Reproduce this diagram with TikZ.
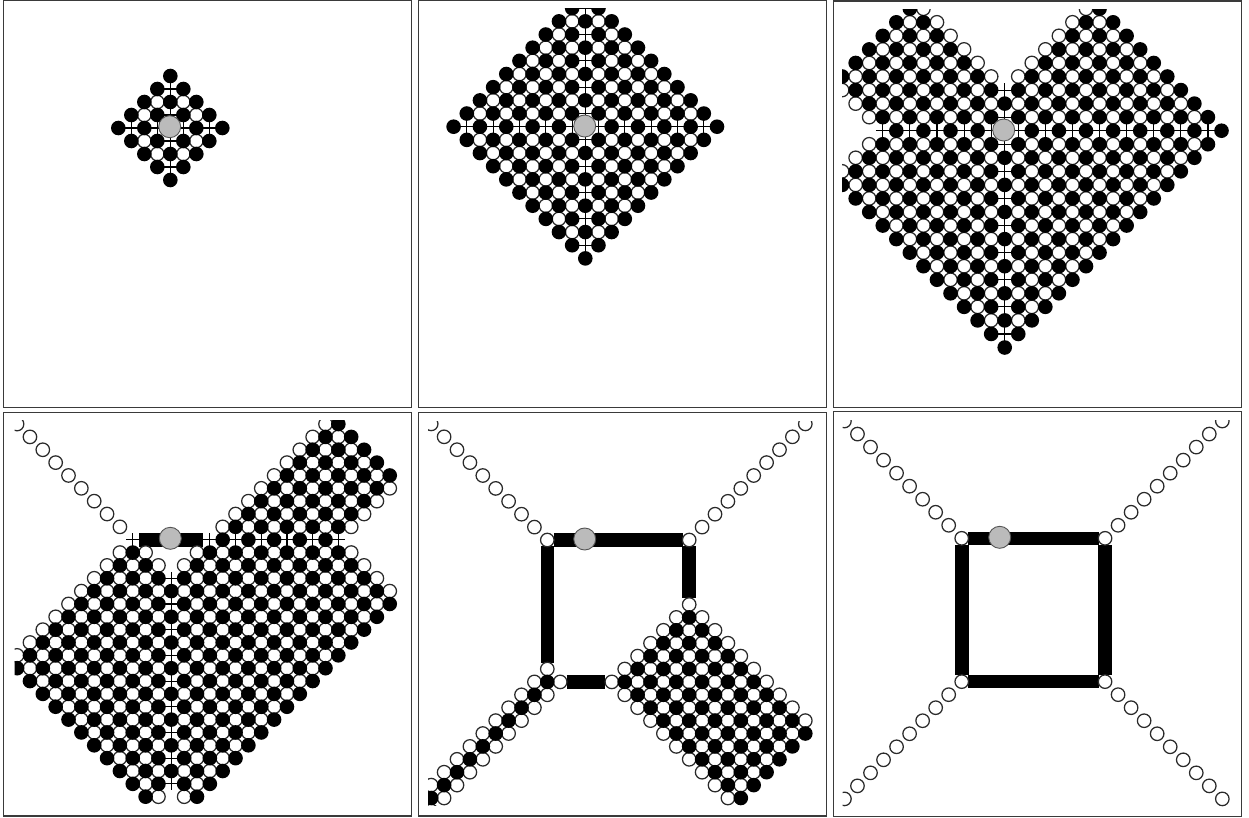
\documentclass[tikz,border=0pt]{standalone}
\definecolor{greyspot}{HTML}{BBBBBB}
\definecolor{greyedge}{HTML}{555555}
\definecolor{ringedge}{HTML}{2A2A2A}
\definecolor{frameedge}{HTML}{3A3A3A}
\tikzset{
  blackdot/.style={fill=black},
  whitedot/.style={fill=white,draw=ringedge,line width=1.25pt},
  crossline/.style={draw=black,line width=1.1pt},
  barline/.style={draw=black,line cap=butt},
  spot/.style={fill=greyspot,draw=greyedge,line width=0.9pt},
  panelframe/.style={draw=frameedge,line width=1.05pt}
}
% #1 mode: 0 chequer with crosses on the axes; 1 black only below the top row; 2 all white
% #2 region test
\newcommand{\drawsites}[2]{%
  \foreach \x in {-14,...,19}{\foreach \y in {-10,...,21}{%
    \pgfmathtruncatemacro{\inreg}{#2}%
    \ifnum\inreg=1\relax
      \ifodd\numexpr\x+\y+40\relax \def\cls{1}\else
        \ifnum#1=2 \def\cls{1}\else
          \ifnum#1=1 \ifnum\y>0 \def\cls{0}\else\def\cls{1}\fi
          \else \def\cls{0}\fi
        \fi
      \fi
      \ifnum\cls=1
        \def\iscross{0}%
        \ifnum#1=0 \ifnum\x=0 \def\iscross{1}\fi \ifnum\y=0 \def\iscross{1}\fi \fi
        \ifnum\iscross=1
          \draw[crossline] (\x-0.5,\y) -- (\x+0.5,\y) (\x,\y-0.5) -- (\x,\y+0.5);
        \else
          \path[whitedot] (\x,\y) circle[radius=6.75pt];
        \fi
      \fi
    \fi
  }}%
  \foreach \x in {-14,...,19}{\foreach \y in {-10,...,21}{%
    \pgfmathtruncatemacro{\inreg}{#2}%
    \ifnum\inreg=1\relax
      \ifodd\numexpr\x+\y+40\relax\else
        \def\cls{1}%
        \ifnum#1=2 \def\cls{0}\fi
        \ifnum#1=1 \ifnum\y>0 \else\def\cls{0}\fi\fi
        \ifnum\cls=1
          \path[blackdot] (\x,\y) circle[radius=7.3pt];
        \fi
      \fi
    \fi
  }}%
}
% #1,#2 origin; #3 pitch; #4 mode; #5 region; #6 bars; #7 clip; #8 grey spot; #9 frame
\newcommand{\panel}[9]{%
  \begin{scope}
    \clip #7;
    \begin{scope}[shift={(#1,#2)},x=#3pt,y=-#3pt]
      \begin{scope}[line width=13.6pt]
        #6
      \end{scope}
      \drawsites{#4}{#5}
    \end{scope}
  \end{scope}
  \path[spot] #8 circle[radius=11pt];
  \path[panelframe] #9;
}
\begin{document}
\begin{tikzpicture}[x=1pt,y=-1pt]
\useasboundingbox (0,0) rectangle (1249,817);
\fill[white] (0,0) rectangle (1249,817);

\panel{170.3}{128}{13}{0}{abs(\x)+abs(\y)<=4}{}
  {(14,8) rectangle (401,398)}{(169.7,126.7)}{(3.7,0.6) rectangle (411.4,407.4)}

\panel{585.3}{126.7}{13.17}{0}{abs(\x)+abs(\y)<=10}{}
  {(429,8) rectangle (816,398)}{(584.7,126)}{(418.7,0.6) rectangle (826.7,407.4)}

\panel{1004.7}{130.7}{13.55}{0}
  {(abs(\x)+abs(\y)<=16)&&(abs(\x)+\y>=-3)&&(0-\x-abs(\y)<=9)}{}
  {(842,9) rectangle (1232,398)}{(1003.7,130)}{(833.8,1) rectangle (1241.5,407.4)}

\panel{171.3}{539.7}{12.85}{0}
  {((\y==0)&&((\x==-3)||((\x>=3)&&(\x<=13))))
   ||((\y<0)&&(\x-\y==-3))
   ||((\y<0)&&(\x+\y>=3)&&(\x+\y<=13)&&(\x-\y<=22))
   ||((\y>0)&&(\x+\y>=-3)&&(\x-\y<=13)&&(\x+\y<=22)&&(\x-\y>=-22)&&(abs(\x)+\y>=3)&&(\y-abs(\x)<=19))}
  {\draw[barline] (-2.5,0) -- (2.5,0);}
  {(14.7,420.7) rectangle (401,808)}{(170.3,538.3)}{(3.9,412.5) rectangle (411.4,816)}

\panel{586}{540}{12.9}{1}
  {((\y==0)&&((\x==-3)||(\x==8)))
   ||((\y<0)&&(\x-\y==-3))
   ||((\y<0)&&(\x+\y==8))
   ||((\x+\y>=13)&&(\x+\y<=32)&&(\x-\y<=3)&&(\x-\y>=-9)&&(\y>0))
   ||((\x==-3)&&(\y==10))
   ||((\y>=11)&&(\x+\y>=7)&&(\x+\y<=9))}
  {\draw[barline] (-2.5,0) -- (7.5,0) (-3,0.5) -- (-3,9.5) (8,0.5) -- (8,4.5) (-1.5,11) -- (1.5,11);}
  {(428,421) rectangle (816,805.5)}{(584.7,539)}{(418.7,412.5) rectangle (826.7,816)}

\panel{1000.8}{538.3}{13.03}{2}
  {((\y==0)&&((\x==-3)||(\x==8)))
   ||((\y==11)&&((\x==-3)||(\x==8)))
   ||((\y<0)&&(\x-\y==-3))
   ||((\y<0)&&(\x+\y==8))
   ||((\y>11)&&(\y<=20)&&(\x+\y==8))
   ||((\y>11)&&(\y<=20)&&(\x-\y==-3))}
  {\draw[barline] (-2.5,0) -- (7.5,0) (-2.5,11) -- (7.5,11) (-3,0.5) -- (-3,10.5) (8,0.5) -- (8,10.5);}
  {(842.5,420.5) rectangle (1232,810)}{(999.7,537.3)}{(833.6,411.8) rectangle (1241.6,816.5)}
\end{tikzpicture}
\end{document}
